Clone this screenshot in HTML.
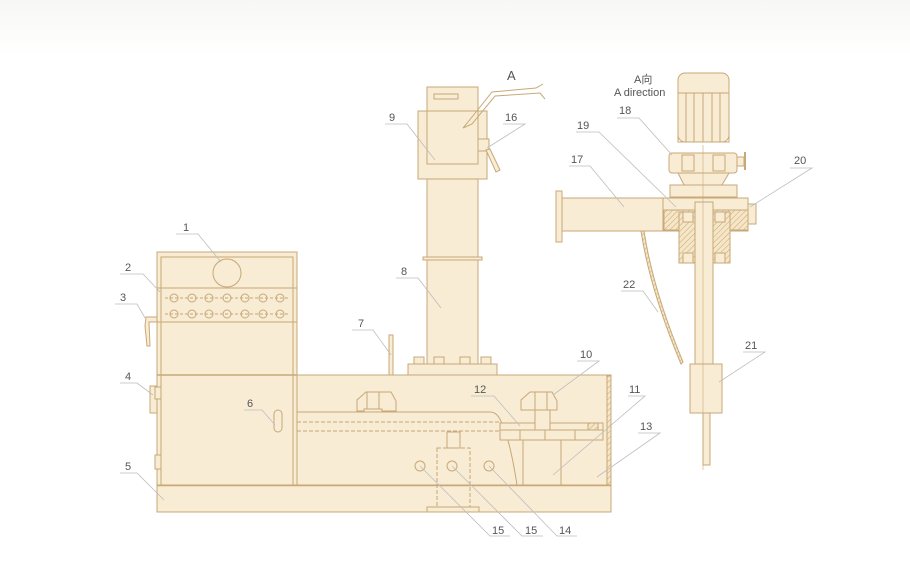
<!DOCTYPE html>
<html><head><meta charset="utf-8"><style>
html,body{margin:0;padding:0;background:#fff;}
svg{display:block;}
text{font-family:"Liberation Sans","Noto Sans CJK SC",sans-serif;font-size:11px;fill:#555;}
</style></head><body>
<svg width="910" height="567" viewBox="0 0 910 567" xmlns="http://www.w3.org/2000/svg">
<defs>
<linearGradient id="bg" x1="0" y1="0" x2="0" y2="1"><stop offset="0" stop-color="#f7f7f5"/><stop offset="0.1" stop-color="#fff"/></linearGradient>
<pattern id="h" width="4" height="4" patternUnits="userSpaceOnUse" patternTransform="rotate(45)"><rect width="4" height="4" fill="#f5e6c8"/><line x1="0" y1="0" x2="0" y2="4" stroke="#c9a56e" stroke-width="1"/></pattern>
</defs>
<rect width="910" height="567" fill="url(#bg)"/>
<g fill="#f8ecd4" stroke="#c8a878" stroke-width="1">
<!-- base plate -->
<rect x="157" y="485" width="454" height="27"/>
<line x1="157" y1="485" x2="611" y2="485" stroke-width="2.5"/>
<rect x="427" y="507" width="52" height="5"/>
<!-- cabinet -->
<rect x="157" y="252" width="140" height="233"/>
<rect x="161" y="257" width="132" height="228" fill="none"/>
<line x1="157" y1="288" x2="297" y2="288"/>
<line x1="157" y1="322" x2="297" y2="322"/>
<line x1="157" y1="375" x2="297" y2="375" stroke-width="1.5"/>
<circle cx="227" cy="273" r="14"/>
<g fill="none" stroke-dasharray="3,2"><line x1="165" y1="298" x2="290" y2="298"/><line x1="165" y1="314" x2="290" y2="314"/></g>
<g fill="none">
<circle cx="174" cy="298" r="4"/><circle cx="192" cy="298" r="4"/><circle cx="209" cy="298" r="4"/><circle cx="227" cy="298" r="4"/><circle cx="245" cy="298" r="4"/><circle cx="263" cy="298" r="4"/><circle cx="280" cy="298" r="4"/>
<circle cx="174" cy="314" r="4"/><circle cx="192" cy="314" r="4"/><circle cx="209" cy="314" r="4"/><circle cx="227" cy="314" r="4"/><circle cx="245" cy="314" r="4"/><circle cx="263" cy="314" r="4"/><circle cx="280" cy="314" r="4"/>
</g>
<path d="M157 317 L146 317 L145 326 L147 346 L150 346 L149 322 L157 322Z"/>
<rect x="150" y="386" width="7" height="27"/><rect x="155" y="387" width="6" height="12"/>
<rect x="155" y="455" width="6" height="14"/>
<rect x="274" y="410" width="8" height="22" rx="4"/>
<!-- body -->
<rect x="297" y="375" width="314" height="110"/>
<rect x="607" y="376" width="4" height="109" fill="url(#h)"/>
<path d="M297 412 L490 412 Q498 412 502 424 Q510 440 517 485" fill="none"/>
<g fill="none" stroke-dasharray="4,2"><line x1="297" y1="422" x2="500" y2="422"/><line x1="297" y1="431" x2="500" y2="431"/>
<rect x="437" y="448" width="33" height="59"/></g>
<rect x="447" y="432" width="13" height="16"/>
<rect x="500" y="423" width="103" height="17"/>
<line x1="500" y1="430" x2="603" y2="430"/>
<line x1="520" y1="430" x2="520" y2="440"/><line x1="545" y1="430" x2="545" y2="440"/><line x1="575" y1="430" x2="575" y2="440"/>
<rect x="588" y="423" width="10" height="7" fill="url(#h)"/>
<line x1="523" y1="440" x2="523" y2="485"/><line x1="561" y1="440" x2="561" y2="485"/>
<circle cx="420" cy="466" r="5"/><circle cx="452" cy="466" r="5"/><circle cx="489" cy="466" r="5"/>
<!-- clamps -->
<path d="M357 411 L357 400 L366 392 L391 392 L396 401 L396 411Z"/><rect x="367" y="392" width="12" height="19"/><rect x="364" y="409" width="18" height="3"/>
<path d="M521 410 L521 400 L530 392 L552 392 L557 401 L557 410Z"/><rect x="535" y="392" width="12" height="18"/><rect x="535" y="410" width="15" height="20"/>
<!-- rod 7 -->
<rect x="389" y="335" width="4" height="40"/>
<!-- column -->
<rect x="408" y="364" width="89" height="11"/>
<rect x="427" y="179" width="51" height="185"/>
<rect x="423" y="257" width="59" height="3"/>
<rect x="414" y="357" width="10" height="7"/><rect x="434" y="357" width="10" height="7"/><rect x="460" y="357" width="10" height="7"/><rect x="481" y="357" width="10" height="7"/>
<rect x="427" y="87" width="51" height="24"/><rect x="434" y="94" width="24" height="5"/>
<rect x="418" y="111" width="69" height="68"/>
<rect x="427" y="111" width="51" height="53" fill="none"/>
<rect x="478" y="139" width="11" height="12"/>
<path d="M486 150 L496 172 L500 170 L490 149Z"/>
<!-- arrow A -->
<path d="M543 84 L536 88 L492 92 L468 122 L463 128 L472 124 L495 96 L540 93 L545 99" fill="none"/>
<!-- right assembly -->
<rect x="556" y="191" width="6" height="51"/>
<rect x="562" y="198" width="101" height="33"/>
<rect x="663" y="198" width="85" height="33"/>
<rect x="664" y="210" width="84" height="20" fill="url(#h)"/>
<rect x="748" y="204" width="8" height="20"/>
<rect x="679" y="212" width="51" height="51" fill="url(#h)"/>
<rect x="683" y="212" width="10" height="10"/><rect x="715" y="212" width="10" height="10"/>
<rect x="683" y="253" width="10" height="10"/><rect x="715" y="253" width="10" height="10"/>
<rect x="695" y="202" width="18" height="162"/>
<rect x="690" y="364" width="32" height="49"/>
<rect x="703" y="413" width="7" height="52"/>
<path d="M641 231 Q650 290 681 364 L683 362 Q653 290 644 231Z" fill="url(#h)"/>
<rect x="670" y="185" width="67" height="12"/>
<path d="M678 173 L729 173 L722 185 L684 185Z"/>
<rect x="669" y="153" width="68" height="20" rx="3"/>
<rect x="682" y="155" width="12" height="16"/><rect x="713" y="155" width="12" height="16"/>
<rect x="737" y="157" width="7" height="9"/><line x1="745" y1="152" x2="745" y2="170" stroke-width="2"/>
<rect x="678" y="73" width="51" height="69" rx="7"/>
<rect x="678" y="93" width="51" height="49" fill="none"/>
<line x1="686" y1="93" x2="686" y2="142"/><line x1="694" y1="93" x2="694" y2="142"/><line x1="703" y1="93" x2="703" y2="142"/><line x1="712" y1="93" x2="712" y2="142"/><line x1="720" y1="93" x2="720" y2="142"/>
<line x1="703" y1="145" x2="703" y2="470" stroke-width="0.6"/>
</g>
<!-- leaders -->
<g stroke="#bdbdbd" stroke-width="0.8" fill="none">
<path d="M176 234 L198 234 L221 262"/>
<path d="M120 274 L143 274 L160 292"/>
<path d="M115 304 L137 304 L145 318"/>
<path d="M120 383 L137 383 L153 395"/>
<path d="M120 473 L137 473 L164 500"/>
<path d="M244 410 L262 410 L275 425"/>
<path d="M352 330 L373 330 L391 355"/>
<path d="M396 278 L418 278 L441 308"/>
<path d="M385 124 L407 124 L435 160"/>
<path d="M503 124 L525 124 L487 148"/>
<path d="M617 118 L639 118 L672 155"/>
<path d="M576 132 L599 132 L676 207"/>
<path d="M569 166 L590 166 L624 207"/>
<path d="M790 168 L812 168 L750 207"/>
<path d="M621 291 L643 291 L658 312"/>
<path d="M743 352 L765 352 L719 382"/>
<path d="M577 361 L599 361 L553 395"/>
<path d="M471 396 L494 396 L520 426"/>
<path d="M628 396 L645 396 L553 475"/>
<path d="M638 433 L660 433 L597 477"/>
<path d="M420 466 L490 536 L510 536"/>
<path d="M452 466 L522 536 L543 536"/>
<path d="M489 466 L557 536 L577 536"/>
</g>
<g>
<text x="183" y="231">1</text><text x="125" y="271">2</text><text x="120" y="301">3</text>
<text x="125" y="380">4</text><text x="125" y="470">5</text><text x="247" y="407">6</text>
<text x="358" y="327">7</text><text x="401" y="275">8</text><text x="389" y="121">9</text>
<text x="505" y="121">16</text><text x="619" y="114">18</text><text x="577" y="129">19</text>
<text x="571" y="163">17</text><text x="794" y="164">20</text><text x="623" y="288">22</text>
<text x="745" y="349">21</text><text x="580" y="358">10</text><text x="474" y="393">12</text>
<text x="629" y="393">11</text><text x="640" y="430">13</text>
<text x="492" y="534">15</text><text x="525" y="534">15</text><text x="559" y="534">14</text>
<text x="507" y="80" style="font-size:13px">A</text>
<text x="634" y="83">A向</text><text x="614" y="96">A direction</text>
</g>
</svg>
</body></html>
